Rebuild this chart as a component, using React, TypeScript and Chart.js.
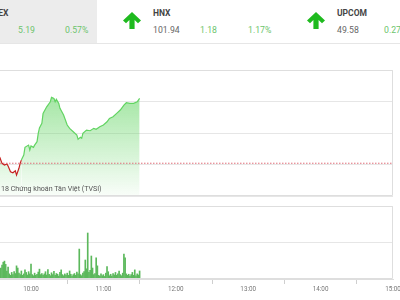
import React, { useEffect, useRef } from "react";
import { Chart, registerables } from "chart.js";
Chart.register(...registerables);

// ---------- data ----------
const priceTimes = [
  "09:32", "09:34", "09:36", "09:38", "09:40", "09:41", "09:43", "09:45", "09:47", "09:48",
  "09:50", "09:51", "09:52", "09:54", "09:55", "09:58", "09:59", "10:00", "10:02", "10:03",
  "10:05", "10:06", "10:07", "10:09", "10:10", "10:13", "10:16", "10:17", "10:19", "10:20",
  "10:21", "10:23", "10:24", "10:27", "10:30", "10:32", "10:35", "10:38", "10:39", "10:41",
  "10:42", "10:43", "10:46", "10:49", "10:52", "10:54", "10:57", "11:00", "11:03", "11:05",
  "11:08", "11:11", "11:14", "11:17", "11:19", "11:22", "11:25", "11:28", "11:30",
];
const priceValues = [
  911.15, 910.59, 910.09, 909.96, 910.04, 909.88, 909.43, 909.35, 909.5, 909.16,
  909.7, 910.09, 910.35, 910.75, 911.36, 911.54, 911.15, 911.47, 911.36, 911.54,
  911.81, 912.47, 912.9, 913.27, 914.06, 914.58, 914.98, 915.33, 915.25, 914.98,
  915.17, 914.85, 914.46, 913.93, 913.13, 912.87, 912.6, 912.34, 912.0, 912.16,
  912.08, 912.47, 912.73, 912.68, 912.87, 912.79, 913.0, 913.13, 913.39, 913.66,
  913.79, 914.06, 914.32, 914.72, 914.9, 914.85, 914.85, 914.98, 915.25,
];
const referenceValue = 910.1;

const volumeStartTime = "09:30";
const volumeValues = [
  18, 12, 25, 15, 20, 30, 38, 46, 49, 40,
  22, 33, 14, 10, 18, 12, 20, 15, 36, 30,
  16, 12, 22, 10, 14, 25, 18, 11, 20, 14,
  41, 12, 9, 16, 10, 13, 19, 27, 12, 15,
  10, 14, 20, 11, 26, 13, 9, 17, 12, 21,
  10, 15, 13, 8, 18, 25, 12, 9, 14, 11,
  16, 10, 22, 13, 8, 12, 15, 10, 19, 14,
  82, 12, 9, 16, 20, 52, 28, 126, 18, 24,
  63, 30, 12, 15, 58, 36, 10, 8, 14, 9,
  12, 7, 16, 34, 20, 9, 13, 8, 15, 11,
  18, 10, 14, 22, 12, 9, 16, 68, 58, 14,
  10, 13, 8, 12, 18, 10, 25, 9, 14, 11, 22,
];

const xTickLabels = ["10:00", "11:00", "12:00", "13:00", "14:00", "15:00"];
const axisStartMinutes = 34.3; // visible window starts just after 09:34
const axisEndTime = "15:00";

const priceTicks = [907.5, 910, 912.5, 915, 917.5];
const volumeTicks = [0, 100, 200];

const indices = [
  { name: "VN-INDEX", value: "", change: "5.19", pct: "0.57%" },
  { name: "HNX", value: "101.94", change: "1.18", pct: "1.17%" },
  { name: "UPCOM", value: "49.58", change: "0.27", pct: "" },
];
const watermark = "18 Chứng khoán Tân Việt (TVSI)";

// ---------- helpers ----------
const toMin = (t: string) => {
  const [h, m] = t.split(":").map(Number);
  return (h - 9) * 60 + m;
};
const axisMax = toMin(axisEndTime);
const FONT = "Roboto, 'Noto Sans', sans-serif";

const framePlugin = {
  id: "frame",
  afterDraw(chart: any) {
    const { ctx, chartArea } = chart;
    const { left, right, top, bottom } = chartArea;
    ctx.save();
    ctx.strokeStyle = "#dedede";
    ctx.lineWidth = 1;
    ctx.beginPath();
    ctx.moveTo(left, Math.round(top) + 0.5);
    ctx.lineTo(Math.round(right) - 0.5, Math.round(top) + 0.5);
    ctx.lineTo(Math.round(right) - 0.5, Math.round(bottom) - 0.5);
    ctx.lineTo(left, Math.round(bottom) - 0.5);
    ctx.stroke();
    ctx.restore();
  },
};

function PriceChart() {
  const ref = useRef<HTMLCanvasElement>(null);
  useEffect(() => {
    const chart = new Chart(ref.current!, {
      type: "line",
      data: {
        datasets: [
          {
            data: priceTimes.map((t, i) => ({ x: toMin(t), y: priceValues[i] })),
            borderColor: "#62d462",
            borderWidth: 1.2,
            pointRadius: 0,
            tension: 0,
            fill: "start",
            order: 1,
            backgroundColor: (c: any) => {
              const area = c.chart.chartArea;
              if (!area) return "rgba(110,215,110,0.4)";
              const g = c.chart.ctx.createLinearGradient(0, area.top, 0, area.bottom);
              g.addColorStop(0, "rgba(105,214,105,0.75)");
              g.addColorStop(1, "rgba(105,214,105,0.04)");
              return g;
            },
            segment: {
              borderColor: (c: any) =>
                c.p0.parsed.y < referenceValue || c.p1.parsed.y < referenceValue ? "#c62020" : undefined,
            },
          } as any,
          {
            data: [
              { x: axisStartMinutes, y: referenceValue },
              { x: axisMax, y: referenceValue },
            ],
            borderColor: "#e0707a",
            borderWidth: 1,
            borderDash: [1.5, 1.5],
            pointRadius: 0,
            fill: false,
            order: 0,
          },
        ],
      },
      options: {
        animation: false,
        responsive: false,
        maintainAspectRatio: false,
        events: [],
        plugins: { legend: { display: false }, tooltip: { enabled: false } },
        layout: { padding: { top: 25, right: 27, bottom: 4, left: 0 } },
        scales: {
          x: { type: "linear", display: false, min: axisStartMinutes, max: axisMax },
          y: {
            min: priceTicks[0],
            max: priceTicks[priceTicks.length - 1],
            afterBuildTicks: (s: any) => {
              s.ticks = priceTicks.map((v) => ({ value: v }));
            },
            ticks: { display: false },
            grid: { color: "#e6e6e6", drawTicks: false },
            border: { display: false },
          },
        },
      },
      plugins: [framePlugin],
    });
    return () => chart.destroy();
  }, []);
  return (
    <canvas
      ref={ref}
      width={420}
      height={155}
      style={{ position: "absolute", left: 0, top: 45, width: 420, height: 155 }}
    />
  );
}

function VolumeChart() {
  const ref = useRef<HTMLCanvasElement>(null);
  useEffect(() => {
    const start = toMin(volumeStartTime);
    const chart = new Chart(ref.current!, {
      type: "bar",
      data: {
        datasets: [
          {
            data: volumeValues.map((v, i) => ({ x: start + i, y: v })),
            backgroundColor: "#5cb85c",
            borderColor: "#2f8a2f",
            borderWidth: 0,
            barThickness: 1,
          } as any,
        ],
      },
      options: {
        animation: false,
        responsive: false,
        maintainAspectRatio: false,
        events: [],
        plugins: { legend: { display: false }, tooltip: { enabled: false } },
        layout: { padding: { top: 11, right: 27, bottom: 0, left: 0 } },
        scales: {
          x: {
            type: "linear",
            min: axisStartMinutes,
            max: axisMax,
            offset: false,
            afterBuildTicks: (s: any) => {
              s.ticks = xTickLabels.map((l) => ({ value: toMin(l) }));
            },
            afterFit: (s: any) => {
              s.height = 21;
            },
            ticks: {
              color: "#777",
              font: { family: FONT, size: 6.3 },
              padding: 2,
              maxRotation: 0,
              autoSkip: false,
              callback: (v: any) => {
                const i = xTickLabels.findIndex((l) => toMin(l) === v);
                return i >= 0 ? xTickLabels[i] : "";
              },
            },
            grid: { drawOnChartArea: false, drawTicks: true, tickLength: 5, color: "#cfcfcf" },
            border: { display: true, color: "#dedede" },
          },
          y: {
            min: volumeTicks[0],
            max: volumeTicks[volumeTicks.length - 1],
            afterBuildTicks: (s: any) => {
              s.ticks = volumeTicks.map((v) => ({ value: v }));
            },
            ticks: { display: false },
            grid: { color: "#e6e6e6", drawTicks: false },
            border: { display: false },
          },
        },
      },
      plugins: [framePlugin],
    });
    return () => chart.destroy();
  }, []);
  return (
    <canvas
      ref={ref}
      width={420}
      height={105}
      style={{ position: "absolute", left: 0, top: 195, width: 420, height: 105 }}
    />
  );
}

function Arrow({ left }: { left: number }) {
  return (
    <svg
      width={18}
      height={17}
      viewBox="0 0 18 17"
      style={{ position: "absolute", left, top: 12 }}
    >
      <polygon
        points="9,0 18,8.5 15,11.2 11.6,7.9 11.6,17 6.4,17 6.4,7.9 3,11.2 0,8.5"
        fill="#1fba1f"
      />
    </svg>
  );
}

const labelStyle: React.CSSProperties = {
  position: "absolute",
  top: 9.4,
  fontFamily: FONT,
  fontSize: 8.5,
  fontWeight: 700,
  lineHeight: 1,
  color: "#444",
  whiteSpace: "nowrap",
};
const numStyle: React.CSSProperties = {
  position: "absolute",
  top: 26.4,
  fontFamily: FONT,
  fontSize: 8.7,
  lineHeight: 1,
  color: "#666",
  whiteSpace: "nowrap",
};
const green = "#6cc46c";

export default function App() {
  return (
    <div
      style={{
        position: "fixed",
        left: 0,
        top: 0,
        width: 400,
        height: 300,
        overflow: "hidden",
        background: "#fff",
      }}
    >
      {/* header */}
      <div style={{ position: "absolute", left: 0, top: 0, width: 97, height: 43, background: "#ececec" }} />
      <div style={{ position: "absolute", left: 0, top: 43, width: 400, height: 1, background: "#e6e6e6" }} />
      <div style={{ ...labelStyle, left: -60, width: 68.5, textAlign: "right" }}>{indices[0].name}</div>
      <div style={{ ...numStyle, left: 18, color: green }}>{indices[0].change}</div>
      <div style={{ ...numStyle, left: 65, color: green }}>{indices[0].pct}</div>

      <Arrow left={123} />
      <div style={{ ...labelStyle, left: 153 }}>{indices[1].name}</div>
      <div style={{ ...numStyle, left: 153 }}>{indices[1].value}</div>
      <div style={{ ...numStyle, left: 200, color: green }}>{indices[1].change}</div>
      <div style={{ ...numStyle, left: 248, color: green }}>{indices[1].pct}</div>

      <Arrow left={307} />
      <div style={{ ...labelStyle, left: 337 }}>{indices[2].name}</div>
      <div style={{ ...numStyle, left: 337 }}>{indices[2].value}</div>
      <div style={{ ...numStyle, left: 384, color: green }}>{indices[2].change}</div>

      <PriceChart />
      <VolumeChart />

      <div
        style={{
          position: "absolute",
          left: 1,
          top: 185,
          fontFamily: FONT,
          fontSize: 7.1,
          lineHeight: 1,
          color: "#555",
          whiteSpace: "nowrap",
        }}
      >
        {watermark}
      </div>
    </div>
  );
}
